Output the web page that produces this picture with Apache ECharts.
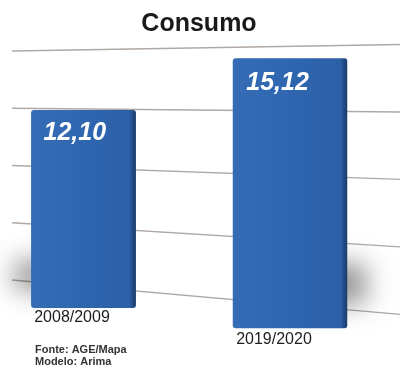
<!DOCTYPE html>
<html>
<head>
<meta charset="utf-8">
<script src="https://cdn.jsdelivr.net/npm/echarts@6/dist/echarts.min.js"></script>
<style>
  html, body { margin: 0; padding: 0; background: #ffffff; }
  #chart { width: 406px; height: 368px; }
</style>
</head>
<body>
<div id="chart"></div>
<script>
// Data
const categories = ['2008/2009', '2019/2020'];
const consumo = [12.10, 15.12];
const gridTicks = [0, 4, 8, 12, 16];

// Simple perspective: the scene grows towards the right, scaling around a horizon line.
const HORIZON = 87.5, X0 = 12, K = 0.00046;
const depth = x => 1 + K * (x - X0);
const project = (x, y, cx) => {
  const s = depth(cx);
  return [cx + (x - cx) * s, HORIZON + (y - HORIZON) * s];
};
const fmt = v => v.toFixed(2).replace('.', ',');
const FONT = '"Liberation Sans", Arial, Helvetica, sans-serif';

const barFill = new echarts.graphic.LinearGradient(0, 0, 1, 0, [
  { offset: 0, color: '#356cb5' },
  { offset: 0.5, color: '#2f66b0' },
  { offset: 0.94, color: '#2c60a8' },
  { offset: 0.965, color: '#234f8c' },
  { offset: 1, color: '#1a396b' }
]);

const chart = echarts.init(document.getElementById('chart'), null, { renderer: 'canvas' });

chart.setOption({
  animation: false,
  backgroundColor: '#ffffff',
  grid: [
    // back wall carrying the grid lines
    { left: 12, right: 6, top: 51, bottom: 88 },
    // bar plane
    { left: 83.5, right: 116, top: 47.6, bottom: 67 }
  ],
  xAxis: [
    { gridIndex: 0, type: 'value', min: 0, max: 1, show: false },
    { gridIndex: 1, type: 'category', data: categories, boundaryGap: false, show: false }
  ],
  yAxis: [
    { gridIndex: 0, type: 'value', min: 0, max: 16, interval: 4, show: false },
    { gridIndex: 1, type: 'value', min: 0, max: 16, interval: 4, show: false }
  ],
  graphic: [
    {
      type: 'text', x: 199, y: 24, z: 10,
      style: { text: 'Consumo', fill: '#1a1a1a', font: 'bold 25px ' + FONT, align: 'center', verticalAlign: 'middle' }
    },
    {
      type: 'text', x: 35, y: 350, z: 10,
      style: { text: 'Fonte: AGE/Mapa', fill: '#333333', font: 'bold 11px ' + FONT, align: 'left', verticalAlign: 'middle' }
    },
    {
      type: 'text', x: 35, y: 362, z: 10,
      style: { text: 'Modelo: Arima', fill: '#333333', font: 'bold 11px ' + FONT, align: 'left', verticalAlign: 'middle' }
    }
  ],
  series: [
    {
      type: 'custom',
      name: 'grade',
      xAxisIndex: 0, yAxisIndex: 0,
      data: gridTicks.map(v => [0, v]),
      encode: { x: 0, y: 1 },
      z: 1,
      renderItem: (params, api) => {
        const v = api.value(1);
        const a = api.coord([0, v]);
        const b = api.coord([1, v]);
        const pa = project(a[0], a[1], a[0]);
        const pb = project(b[0], b[1], b[0]);
        return {
          type: 'line',
          shape: { x1: pa[0], y1: pa[1], x2: pb[0], y2: pb[1] },
          style: { stroke: '#b0a8a2', lineWidth: 1.4 }
        };
      }
    },
    {
      type: 'custom',
      name: 'Consumo',
      xAxisIndex: 1, yAxisIndex: 1,
      data: consumo.map((v, i) => [i, v]),
      encode: { x: 0, y: 1 },
      z: 2,
      renderItem: (params, api) => {
        const i = api.value(0), v = api.value(1);
        const top = api.coord([i, v]);
        const base = api.coord([i, 0]);
        const band = api.size([1, 0])[0];
        const w = band * 0.4915;
        const cx = base[0];
        const s = depth(cx);
        const [xl, yt] = project(cx - w / 2, top[1], cx);
        const [xr, yb] = project(cx + w / 2, base[1], cx);
        const bw = xr - xl, bh = yb - yt;
        const side = Math.sign(cx - 187);
        const labelY = project(cx, base[1] + 9.7, cx)[1];
        return {
          type: 'group',
          children: [
            {
              // soft floor shadow, only the blurred copy shows beside the bar
              type: 'rect',
              shape: { x: xl + 6, y: yb - bh * 0.24, width: bw - 12, height: bh * 0.15 },
              style: {
                fill: '#2f66b0',
                shadowBlur: 26,
                shadowColor: 'rgba(0,0,0,0.42)',
                shadowOffsetX: side * 22 * s,
                shadowOffsetY: 0
              }
            },
            {
              type: 'rect',
              shape: { x: xl, y: yt, width: bw, height: bh, r: 3 },
              style: { fill: barFill }
            },
            {
              type: 'text',
              style: {
                text: fmt(v),
                x: xl + 12 * s,
                y: yt + 22.2 * s,
                fill: '#ffffff',
                font: 'italic bold 25px ' + FONT,
                align: 'left',
                verticalAlign: 'middle'
              }
            },
            {
              type: 'text',
              style: {
                text: categories[i],
                x: xl + 3 * s,
                y: labelY,
                fill: '#1e1e1e',
                font: '16px ' + FONT,
                align: 'left',
                verticalAlign: 'middle'
              }
            }
          ]
        };
      }
    }
  ]
});
</script>
</body>
</html>
